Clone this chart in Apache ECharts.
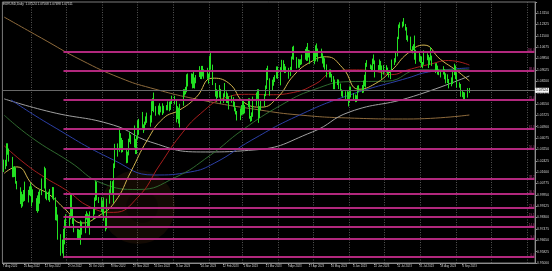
<!DOCTYPE html>
<html><head><meta charset="utf-8">
<script src="https://cdn.jsdelivr.net/npm/echarts/dist/echarts.min.js"></script>
<style>html,body{margin:0;padding:0;background:#000;}#c{width:552px;height:271px;}</style>
</head><body><div id="c"></div>
<script>
const HEADER_TEXT = 'EURUSD,Daily  1.07524 1.07568 1.07498 1.07511';
const AXIS_START = [2022, 7, 7];      // first calendar day on the axis (7 Aug 2022)
const AXIS_DAYS = 458;                // calendar days spanned by the axis
const CANDLE_START = [2022, 7, 8];    // Monday of the first candle week
// Daily candles [open, high, low, close], one row per week Mon..Fri
const WEEKS = [
[[1.0181,1.0250,1.0160,1.0197],[1.0197,1.0248,1.0180,1.0211],[1.0211,1.0368,1.0202,1.0298],[1.0298,1.0368,1.0285,1.0321],[1.0321,1.0330,1.0235,1.0259]],
[[1.0259,1.0269,1.0122,1.0160],[1.0160,1.0199,1.0122,1.0169],[1.0169,1.0202,1.0124,1.0178],[1.0178,1.0191,1.0075,1.0085],[1.0085,1.0094,1.0034,1.0039]],
[[1.0039,1.0049,0.9927,0.9943],[0.9943,1.0017,0.9900,0.9966],[0.9966,0.9999,0.9910,0.9969],[0.9969,1.0029,0.9944,0.9973],[0.9973,1.0090,0.9950,0.9965]],
[[0.9965,1.0030,0.9939,1.0005],[1.0005,1.0055,0.9991,1.0019],[1.0019,1.0079,0.9984,1.0054],[1.0054,1.0056,0.9910,0.9946],[0.9946,1.0034,0.9939,0.9953]],
[[0.9953,0.9970,0.9877,0.9929],[0.9929,0.9990,0.9864,0.9905],[0.9905,1.0016,0.9876,1.0011],[1.0011,1.0030,0.9930,1.0000],[1.0000,1.0113,0.9992,1.0042]],
[[1.0042,1.0198,1.0040,1.0121],[1.0121,1.0187,0.9966,0.9969],[0.9969,1.0018,0.9955,0.9980],[0.9980,1.0017,0.9955,0.9993],[0.9993,1.0036,0.9943,1.0014]],
[[1.0014,1.0051,0.9966,1.0025],[1.0025,1.0050,0.9955,0.9971],[0.9971,0.9976,0.9810,0.9836],[0.9836,0.9907,0.9807,0.9839],[0.9839,0.9851,0.9669,0.9688]],
[[0.9688,0.9709,0.9553,0.9608],[0.9608,0.9670,0.9570,0.9593],[0.9593,0.9748,0.9536,0.9735],[0.9735,0.9815,0.9635,0.9814],[0.9814,0.9853,0.9750,0.9802]],
[[0.9802,0.9849,0.9754,0.9826],[0.9826,0.9999,0.9817,0.9985],[0.9985,0.9998,0.9835,0.9886],[0.9886,0.9905,0.9783,0.9794],[0.9794,0.9828,0.9723,0.9742]],
[[0.9742,0.9748,0.9671,0.9700],[0.9700,0.9745,0.9669,0.9709],[0.9709,0.9740,0.9670,0.9703],[0.9703,0.9808,0.9632,0.9780],[0.9780,0.9800,0.9705,0.9722]],
[[0.9722,0.9854,0.9716,0.9840],[0.9840,0.9875,0.9815,0.9855],[0.9855,0.9860,0.9760,0.9775],[0.9775,0.9850,0.9760,0.9779],[0.9779,0.9874,0.9705,0.9861]],
[[0.9861,0.9900,0.9812,0.9878],[0.9878,0.9976,0.9852,0.9964],[0.9964,1.0094,0.9950,1.0077],[1.0077,1.0089,0.9955,0.9963],[0.9963,0.9978,0.9935,0.9965]],
[[0.9965,0.9977,0.9870,0.9883],[0.9883,0.9953,0.9853,0.9875],[0.9875,0.9976,0.9806,0.9820],[0.9820,0.9830,0.9730,0.9750],[0.9750,0.9966,0.9745,0.9959]],
[[0.9959,1.0033,0.9930,1.0021],[1.0021,1.0096,1.0000,1.0075],[1.0075,1.0093,1.0001,1.0012],[1.0012,1.0222,0.9935,1.0207],[1.0207,1.0364,1.0188,1.0354]],
[[1.0354,1.0367,1.0271,1.0325],[1.0325,1.0481,1.0306,1.0348],[1.0348,1.0441,1.0330,1.0393],[1.0393,1.0407,1.0300,1.0363],[1.0363,1.0392,1.0304,1.0325]],
[[1.0325,1.0331,1.0223,1.0241],[1.0241,1.0307,1.0226,1.0302],[1.0302,1.0401,1.0280,1.0396],[1.0396,1.0449,1.0376,1.0407],[1.0407,1.0431,1.0362,1.0398]],
[[1.0398,1.0497,1.0337,1.0340],[1.0340,1.0400,1.0290,1.0330],[1.0330,1.0418,1.0290,1.0405],[1.0405,1.0535,1.0396,1.0522],[1.0522,1.0545,1.0429,1.0536]],
[[1.0536,1.0595,1.0479,1.0493],[1.0493,1.0505,1.0443,1.0466],[1.0466,1.0525,1.0462,1.0508],[1.0508,1.0563,1.0502,1.0555],[1.0555,1.0590,1.0516,1.0532]],
[[1.0532,1.0571,1.0488,1.0536],[1.0536,1.0673,1.0518,1.0630],[1.0630,1.0695,1.0602,1.0682],[1.0682,1.0736,1.0593,1.0627],[1.0627,1.0637,1.0568,1.0584]],
[[1.0584,1.0641,1.0577,1.0604],[1.0604,1.0658,1.0570,1.0623],[1.0623,1.0636,1.0592,1.0606],[1.0606,1.0658,1.0573,1.0595],[1.0595,1.0640,1.0585,1.0616]],
[[1.0616,1.0645,1.0607,1.0640],[1.0640,1.0672,1.0607,1.0638],[1.0638,1.0670,1.0600,1.0611],[1.0611,1.0673,1.0610,1.0661],[1.0661,1.0713,1.0653,1.0705]],
[[1.0705,1.0712,1.0650,1.0668],[1.0668,1.0683,1.0519,1.0546],[1.0546,1.0637,1.0543,1.0606],[1.0606,1.0626,1.0511,1.0520],[1.0520,1.0654,1.0483,1.0644]],
[[1.0644,1.0760,1.0640,1.0732],[1.0732,1.0760,1.0713,1.0735],[1.0735,1.0777,1.0723,1.0761],[1.0761,1.0868,1.0738,1.0852],[1.0852,1.0874,1.0780,1.0830]],
[[1.0830,1.0875,1.0800,1.0822],[1.0822,1.0872,1.0766,1.0787],[1.0787,1.0887,1.0768,1.0795],[1.0795,1.0845,1.0765,1.0829],[1.0829,1.0863,1.0803,1.0856]],
[[1.0856,1.0927,1.0848,1.0870],[1.0870,1.0891,1.0834,1.0886],[1.0886,1.0929,1.0833,1.0914],[1.0914,1.0929,1.0852,1.0890],[1.0890,1.0904,1.0836,1.0868]],
[[1.0868,1.0915,1.0835,1.0847],[1.0847,1.0873,1.0800,1.0862],[1.0862,1.1000,1.0845,1.0990],[1.0990,1.1033,1.0901,1.0910],[1.0910,1.0938,1.0790,1.0795]],
[[1.0795,1.0805,1.0706,1.0727],[1.0727,1.0760,1.0669,1.0727],[1.0727,1.0753,1.0697,1.0713],[1.0713,1.0790,1.0700,1.0741],[1.0741,1.0762,1.0655,1.0678]],
[[1.0678,1.0730,1.0660,1.0724],[1.0724,1.0805,1.0703,1.0738],[1.0738,1.0744,1.0660,1.0689],[1.0689,1.0730,1.0659,1.0675],[1.0675,1.0709,1.0613,1.0694]],
[[1.0694,1.0715,1.0662,1.0685],[1.0685,1.0703,1.0633,1.0648],[1.0648,1.0669,1.0600,1.0605],[1.0605,1.0627,1.0577,1.0595],[1.0595,1.0602,1.0533,1.0548]],
[[1.0548,1.0621,1.0536,1.0607],[1.0607,1.0645,1.0570,1.0576],[1.0576,1.0691,1.0576,1.0668],[1.0668,1.0674,1.0578,1.0597],[1.0597,1.0645,1.0585,1.0634]],
[[1.0634,1.0694,1.0630,1.0683],[1.0683,1.0694,1.0546,1.0548],[1.0548,1.0566,1.0524,1.0545],[1.0545,1.0592,1.0529,1.0583],[1.0583,1.0706,1.0560,1.0640]],
[[1.0640,1.0736,1.0640,1.0730],[1.0730,1.0760,1.0690,1.0731],[1.0731,1.0760,1.0516,1.0578],[1.0578,1.0637,1.0551,1.0609],[1.0609,1.0676,1.0607,1.0669]],
[[1.0669,1.0726,1.0636,1.0717],[1.0717,1.0787,1.0710,1.0770],[1.0770,1.0912,1.0762,1.0857],[1.0857,1.0930,1.0826,1.0830],[1.0830,1.0839,1.0713,1.0760]],
[[1.0760,1.0829,1.0747,1.0799],[1.0799,1.0848,1.0785,1.0843],[1.0843,1.0862,1.0812,1.0844],[1.0844,1.0925,1.0838,1.0905],[1.0905,1.0925,1.0835,1.0840]],
[[1.0840,1.0920,1.0788,1.0901],[1.0901,1.0973,1.0885,1.0955],[1.0955,1.0970,1.0893,1.0904],[1.0904,1.0943,1.0877,1.0920],[1.0920,1.0925,1.0878,1.0902]],
[[1.0902,1.0915,1.0836,1.0860],[1.0860,1.0922,1.0855,1.0914],[1.0914,1.0997,1.0893,1.0992],[1.0992,1.1068,1.0976,1.1046],[1.1046,1.1075,1.0973,1.0991]],
[[1.0991,1.0993,1.0910,1.0925],[1.0925,1.0980,1.0915,1.0972],[1.0972,1.0976,1.0915,1.0956],[1.0956,1.0977,1.0935,1.0965],[1.0965,1.1011,1.0940,1.0989]],
[[1.0989,1.1052,1.0974,1.1047],[1.1047,1.1067,1.0965,1.0973],[1.0973,1.1095,1.0966,1.1042],[1.1042,1.1044,1.0990,1.1027],[1.1027,1.1041,1.0943,1.1019]],
[[1.1019,1.1034,1.0966,1.0977],[1.0977,1.1034,1.0941,1.0998],[1.0998,1.1078,1.0962,1.1067],[1.1067,1.1092,1.0995,1.1013],[1.1013,1.1055,1.0960,1.1019]],
[[1.1019,1.1054,1.0985,1.1005],[1.1005,1.1020,1.0946,1.0961],[1.0961,1.1000,1.0918,1.0981],[1.0981,1.0984,1.0902,1.0915],[1.0915,1.0940,1.0846,1.0848]],
[[1.0848,1.0903,1.0845,1.0870],[1.0870,1.0904,1.0845,1.0863],[1.0863,1.0871,1.0812,1.0841],[1.0841,1.0855,1.0760,1.0768],[1.0768,1.0830,1.0760,1.0806]],
[[1.0806,1.0832,1.0790,1.0815],[1.0815,1.0830,1.0761,1.0770],[1.0770,1.0801,1.0747,1.0751],[1.0751,1.0759,1.0708,1.0725],[1.0725,1.0747,1.0701,1.0721]],
[[1.0721,1.0745,1.0687,1.0705],[1.0705,1.0746,1.0675,1.0734],[1.0734,1.0743,1.0635,1.0689],[1.0689,1.0780,1.0663,1.0761],[1.0761,1.0779,1.0700,1.0708]],
[[1.0708,1.0732,1.0681,1.0713],[1.0713,1.0722,1.0666,1.0693],[1.0693,1.0716,1.0667,1.0698],[1.0698,1.0786,1.0677,1.0781],[1.0781,1.0789,1.0738,1.0749]],
[[1.0749,1.0790,1.0732,1.0753],[1.0753,1.0823,1.0735,1.0792],[1.0792,1.0865,1.0780,1.0832],[1.0832,1.0951,1.0772,1.0945],[1.0945,1.0971,1.0922,1.0939]],
[[1.0939,1.0940,1.0905,1.0922],[1.0922,1.0933,1.0891,1.0916],[1.0916,1.0982,1.0896,1.0979],[1.0979,1.1012,1.0942,1.0955],[1.0955,1.0969,1.0845,1.0893]],
[[1.0893,1.0935,1.0885,1.0905],[1.0905,1.0976,1.0900,1.0960],[1.0960,1.0965,1.0899,1.0912],[1.0912,1.0932,1.0835,1.0866],[1.0866,1.0935,1.0866,1.0910]],
[[1.0910,1.0934,1.0881,1.0909],[1.0909,1.0917,1.0870,1.0882],[1.0882,1.0888,1.0845,1.0853],[1.0853,1.0900,1.0833,1.0891],[1.0891,1.0975,1.0885,1.0967]],
[[1.0967,1.0985,1.0935,1.0970],[1.0970,1.1028,1.0954,1.1011],[1.1011,1.1140,1.0998,1.1129],[1.1129,1.1229,1.1123,1.1225],[1.1225,1.1245,1.1203,1.1228]],
[[1.1228,1.1250,1.1207,1.1235],[1.1235,1.1276,1.1216,1.1227],[1.1227,1.1233,1.1185,1.1200],[1.1200,1.1210,1.1117,1.1128],[1.1128,1.1150,1.1105,1.1124]],
[[1.1124,1.1141,1.1044,1.1063],[1.1063,1.1072,1.1020,1.1056],[1.1056,1.1086,1.1044,1.1086],[1.1086,1.1149,1.0974,1.0977],[1.0977,1.1046,1.0944,1.1016]],
[[1.1016,1.1034,1.0960,1.0997],[1.0997,1.1001,1.0949,1.0984],[1.0984,1.0998,1.0920,1.0938],[1.0938,1.0957,1.0912,1.0947],[1.0947,1.1042,1.0937,1.1007]],
[[1.1007,1.1020,1.0970,1.1004],[1.1004,1.1007,1.0913,1.0956],[1.0956,1.0992,1.0936,1.0972],[1.0972,1.1065,1.0968,1.0982],[1.0982,1.1004,1.0929,1.0946]],
[[1.0946,1.0948,1.0877,1.0906],[1.0906,1.0949,1.0896,1.0904],[1.0904,1.0931,1.0866,1.0875],[1.0875,1.0903,1.0862,1.0873],[1.0873,1.0892,1.0845,1.0872]],
[[1.0872,1.0927,1.0866,1.0893],[1.0893,1.0905,1.0832,1.0846],[1.0846,1.0875,1.0802,1.0863],[1.0863,1.0868,1.0805,1.0808],[1.0808,1.0834,1.0766,1.0796]],
[[1.0796,1.0846,1.0781,1.0818],[1.0818,1.0893,1.0797,1.0880],[1.0880,1.0945,1.0862,1.0922],[1.0922,1.0932,1.0833,1.0842],[1.0842,1.0882,1.0771,1.0776]],
[[1.0776,1.0810,1.0771,1.0794],[1.0794,1.0798,1.0705,1.0722],[1.0722,1.0750,1.0702,1.0726],[1.0726,1.0740,1.0686,1.0697],[1.0697,1.0737,1.0687,1.0699]],
[[1.0699,1.0768,1.0699,1.0748],[1.0748,1.0769,1.0733,1.0752]]
];
// Moving averages: [date, price]
const MA_YELLOW = [['2022-08-08',1.0150],['2022-08-19',1.0197],['2022-09-02',1.0065],['2022-09-16',0.9995],['2022-09-30',0.9885],['2022-10-14',0.9790],['2022-10-28',0.9840],['2022-11-11',0.9940],['2022-11-25',1.0163],['2022-12-09',1.0390],['2022-12-23',1.0550],['2023-01-06',1.0610],['2023-01-20',1.0700],['2023-02-03',1.0840],['2023-02-17',1.0805],['2023-03-03',1.0660],['2023-03-17',1.0630],['2023-03-31',1.0700],['2023-04-14',1.0860],['2023-04-28',1.0955],['2023-05-12',1.0995],['2023-05-26',1.0915],['2023-06-09',1.0760],['2023-06-23',1.0800],['2023-07-07',1.0895],['2023-07-21',1.1020],['2023-08-04',1.1080],['2023-08-18',1.0977],['2023-09-01',1.0895],['2023-09-12',1.0820]];
const MA_RED = [['2022-08-08',1.0350],['2022-08-26',1.0220],['2022-09-12',1.0120],['2022-09-30',1.0030],['2022-10-21',0.9906],['2022-11-10',0.9867],['2022-12-01',0.9977],['2022-12-20',1.0214],['2023-01-06',1.0420],['2023-01-24',1.0584],['2023-02-14',1.0698],['2023-03-06',1.0723],['2023-03-24',1.0720],['2023-04-14',1.0737],['2023-05-03',1.0800],['2023-05-19',1.0890],['2023-06-07',1.0900],['2023-06-23',1.0889],['2023-07-07',1.0866],['2023-07-21',1.0900],['2023-08-10',1.0943],['2023-08-25',1.0968],['2023-09-12',1.0935]];
const MA_GREEN = [['2022-08-08',1.0572],['2022-09-01',1.0407],['2022-10-03',1.0236],['2022-11-01',1.0075],['2022-12-01',1.0033],['2023-01-02',1.0120],['2023-02-01',1.0280],['2023-03-01',1.0465],['2023-04-03',1.0644],['2023-05-01',1.0756],['2023-06-01',1.0815],['2023-07-03',1.0818],['2023-08-01',1.0901],['2023-09-12',1.0900]];
const MA_BLUE = [['2022-08-14',1.0682],['2022-09-17',1.0500],['2022-11-10',1.0247],['2022-12-15',1.0138],['2023-01-15',1.0160],['2023-02-05',1.0225],['2023-03-09',1.0392],['2023-04-19',1.0573],['2023-06-01',1.0718],['2023-07-21',1.0841],['2023-08-08',1.0885],['2023-09-12',1.0914]];
const MA_GREY = [['2022-08-08',1.0690],['2022-09-17',1.0595],['2022-11-10',1.0500],['2022-12-12',1.0377],['2023-01-24',1.0305],['2023-03-10',1.0319],['2023-04-30',1.0450],['2023-06-01',1.0595],['2023-07-21',1.0696],['2023-09-12',1.0856]];
const MA_TAN = [['2022-08-08',1.1283],['2022-09-09',1.1131],['2022-10-13',1.0972],['2022-11-16',1.0841],['2022-12-12',1.0769],['2023-01-24',1.0682],['2023-03-16',1.0609],['2023-04-19',1.0573],['2023-06-01',1.0551],['2023-07-21',1.0544],['2023-09-12',1.0573]];
// Fibonacci levels
const FIB_START = '2022-09-28';
const FIB_LEVELS = [1.10295,1.08918,1.06815,1.04713,1.03263,1.01088,0.99999,0.98985,0.98333,0.97608,0.96738,0.95433];
const FIB_LABELS = ['100.0','88.6','76.4','61.8','50.0','38.2','30.9','23.6','19.1','14.6','9.0','0.0'];
const LAST_PRICE = 1.07524;
// Axis labels
const X_TICK_DATES = ['2022-08-07','2022-08-25','2022-09-12','2022-10-02','2022-10-20','2022-11-08','2022-11-27','2022-12-15','2023-01-03','2023-01-24','2023-02-12','2023-03-02','2023-03-21','2023-04-09','2023-04-27','2023-05-16','2023-06-04','2023-06-22','2023-07-12','2023-07-31','2023-08-18','2023-09-06'];
const Y_TICK_LABELS = ['0.95000','0.95825','0.96650','0.97475','0.98300','0.99125','0.99950','1.00775','1.01600','1.02425','1.03250','1.04075','1.04900','1.05725','1.06550','1.07375','1.08200','1.09025','1.09850','1.10675','1.11500','1.12325','1.13150'];
const Y_MIN = 0.95, Y_MAX = 1.139225;
const MONTHS = ['Jan','Feb','Mar','Apr','May','Jun','Jul','Aug','Sep','Oct','Nov','Dec'];

const DAY = 86400000;
const fmt = t => { const d = new Date(t); return d.getUTCFullYear() + '-' + String(d.getUTCMonth()+1).padStart(2,'0') + '-' + String(d.getUTCDate()).padStart(2,'0'); };
const axisStart = Date.UTC(...AXIS_START);
const CATS = [];
for (let i = 0; i < AXIS_DAYS; i++) CATS.push(fmt(axisStart + i*DAY));
const candleMap = {};
const cStart = Date.UTC(...CANDLE_START);
WEEKS.forEach((wk, w) => wk.forEach((v, d) => { candleMap[fmt(cStart + (w*7+d)*DAY)] = v; }));
const candleData = CATS.map(c => { const v = candleMap[c]; return v ? [v[0], v[3], v[2], v[1]] : ['-','-','-','-']; });
const tickSet = new Set(X_TICK_DATES);
const tickFn = (i, v) => tickSet.has(v);
const monthFn = (i, v) => v.endsWith('-01');
const labelFmt = v => { const p = v.split('-'); return (+p[2]) + ' ' + MONTHS[+p[1]-1] + ' ' + p[0]; };
const FONT = 'Liberation Sans, Arial, sans-serif';
const FIB_COLOR = '#bb2a84';

const maSeries = (data, color) => ({ type:'line', data, smooth:0.5, showSymbol:false, silent:true, z:3,
  lineStyle:{ color, width:1 } });

const fibLines = FIB_LEVELS.map((lv, i) => [ { name:FIB_LABELS[i], coord:[FIB_START, lv] }, { coord:[CATS[CATS.length-1], lv] } ]);
const priceLine = { yAxis:LAST_PRICE, name:LAST_PRICE.toFixed(5),
  lineStyle:{ color:'#6e6e6e', width:1, type:'solid' },
  label:{ show:true, position:'end', formatter:'{b}', backgroundColor:'#ffffff', color:'#000', fontSize:3.3, fontFamily:FONT, padding:[1,1], distance:0 } };

const chart = echarts.init(document.getElementById('c'), null, { renderer:'canvas' });
chart.setOption({
  backgroundColor:'#000',
  animation:false,
  grid:{ left:1, right:15, top:2, bottom:8, show:true, borderColor:'#7a7a7a', borderWidth:1 },
  xAxis:{ type:'category', data:CATS, boundaryGap:true,
    axisLine:{ lineStyle:{ color:'#8c8c8c' } },
    axisTick:{ show:true, interval:tickFn, alignWithLabel:true, length:2, lineStyle:{ color:'#8c8c8c' } },
    axisLabel:{ interval:tickFn, formatter:labelFmt, fontSize:2.8, fontFamily:FONT, color:'#cfcfcf', align:'left', margin:1.5 },
    splitLine:{ show:true, interval:monthFn, lineStyle:{ color:'#6a6a6a', type:[1,1.5], width:0.8 } } },
  yAxis:[
    { type:'value', min:Y_MIN, max:Y_MAX, show:false, splitLine:{show:false} },
    { type:'value', position:'right', min:0, max:22.975, interval:1,
      axisLine:{ show:true, lineStyle:{ color:'#8c8c8c' } },
      axisTick:{ show:true, length:2, lineStyle:{ color:'#8c8c8c' } },
      axisLabel:{ formatter:v => Number.isInteger(v) ? Y_TICK_LABELS[v] : '', fontSize:3.3, fontFamily:FONT, color:'#cfcfcf', margin:2 },
      splitLine:{ show:false } }
  ],
  graphic:[
    { type:'circle', shape:{ cx:138, cy:207, r:37 }, style:{ fill:'rgba(120,62,20,0.16)' }, z:1, silent:true },
    { type:'circle', shape:{ cx:142, cy:207, r:16 }, style:{ fill:'rgba(0,0,0,0.30)' }, z:1, silent:true },
    { type:'text', left:3, top:3, style:{ text:HEADER_TEXT, fill:'#d8d8d8', font:'3.1px ' + FONT }, z:10, silent:true }
  ],
  series:[
    { type:'candlestick', data:candleData, barWidth:1, z:4, silent:true, yAxisIndex:0,
      itemStyle:{ color:'#000', color0:'#22e022', borderColor:'#22e022', borderColor0:'#22e022', borderWidth:1 },
      markLine:{ symbol:'none', silent:true, animation:false, precision:5,
        label:{ show:true, position:'insideEndTop', formatter:'{b}', fontSize:2.8, fontFamily:FONT, color:'#d0409a', distance:[0,0.5] },
        lineStyle:{ color:FIB_COLOR, width:2, type:'solid', opacity:0.95 },
        data: fibLines.concat([priceLine]) } },
    maSeries(MA_TAN, '#8f6b3c'),
    maSeries(MA_GREY, '#a0a0a0'),
    maSeries(MA_BLUE, '#2c3fa6'),
    maSeries(MA_GREEN, '#2f6a2f'),
    maSeries(MA_RED, '#a81e1e'),
    maSeries(MA_YELLOW, '#d2b450')
  ]
});
</script>
</body></html>
